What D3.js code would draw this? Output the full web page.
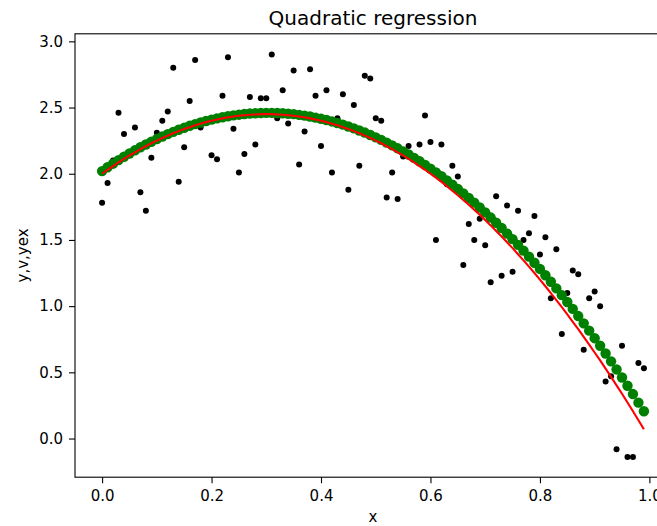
<html>
  <head>
    <meta charset="utf-8" />
    <script src="https://d3js.org/d3.v7.min.js"></script>
    <style>
      body { margin: 0; background: #fff; }
    </style>
  </head>
  <body>
    <div class="container"></div>
  </body>
</html>

<script>
  // sample positions (0.00 .. 0.99)
  const xs = [
    0.00, 0.01, 0.02, 0.03, 0.04, 0.05, 0.06, 0.07, 0.08, 0.09,
    0.10, 0.11, 0.12, 0.13, 0.14, 0.15, 0.16, 0.17, 0.18, 0.19,
    0.20, 0.21, 0.22, 0.23, 0.24, 0.25, 0.26, 0.27, 0.28, 0.29,
    0.30, 0.31, 0.32, 0.33, 0.34, 0.35, 0.36, 0.37, 0.38, 0.39,
    0.40, 0.41, 0.42, 0.43, 0.44, 0.45, 0.46, 0.47, 0.48, 0.49,
    0.50, 0.51, 0.52, 0.53, 0.54, 0.55, 0.56, 0.57, 0.58, 0.59,
    0.60, 0.61, 0.62, 0.63, 0.64, 0.65, 0.66, 0.67, 0.68, 0.69,
    0.70, 0.71, 0.72, 0.73, 0.74, 0.75, 0.76, 0.77, 0.78, 0.79,
    0.80, 0.81, 0.82, 0.83, 0.84, 0.85, 0.86, 0.87, 0.88, 0.89,
    0.90, 0.91, 0.92, 0.93, 0.94, 0.95, 0.96, 0.97, 0.98, 0.99
  ];

  // noisy samples (black points)
  const ySamples = [
    1.78, 1.93, 2.10, 2.46, 2.30, 2.16, 2.35, 1.86, 1.72, 2.12,
    2.31, 2.40, 2.47, 2.80, 1.94, 2.20, 2.55, 2.86, 2.35, 2.40,
    2.14, 2.11, 2.59, 2.88, 2.34, 2.01, 2.15, 2.58, 2.22, 2.57,
    2.57, 2.90, 2.42, 2.63, 2.38, 2.78, 2.07, 2.32, 2.79, 2.59,
    2.21, 2.63, 2.01, 2.42, 2.60, 1.88, 2.52, 2.06, 2.74, 2.72,
    2.42, 2.40, 1.82, 2.01, 1.81, 2.13, 2.21, 2.12, 2.22, 2.44,
    2.24, 1.50, 2.22, 1.92, 2.06, 1.98, 1.31, 1.62, 1.50, 1.66,
    1.46, 1.18, 1.83, 1.23, 1.76, 1.26, 1.72, 1.50, 1.55, 1.68,
    1.39, 1.52, 1.06, 1.43, 0.79, 1.10, 1.27, 1.24, 0.67, 1.06,
    1.11, 1.00, 0.43, 0.47, -0.08, 0.70, -0.14, -0.14, 0.57, 0.53
  ];

  // fitted values (green markers)
  const vFit = [
    2.020, 2.049, 2.076, 2.103, 2.128, 2.153, 2.177, 2.200, 2.221, 2.242,
    2.262, 2.281, 2.299, 2.316, 2.332, 2.347, 2.362, 2.375, 2.387, 2.398,
    2.409, 2.418, 2.427, 2.434, 2.441, 2.446, 2.451, 2.455, 2.457, 2.459,
    2.460, 2.460, 2.459, 2.457, 2.453, 2.450, 2.445, 2.439, 2.432, 2.424,
    2.415, 2.406, 2.395, 2.383, 2.371, 2.357, 2.343, 2.327, 2.311, 2.293,
    2.275, 2.256, 2.235, 2.214, 2.192, 2.169, 2.145, 2.120, 2.094, 2.067,
    2.039, 2.010, 1.981, 1.950, 1.918, 1.885, 1.852, 1.817, 1.782, 1.745,
    1.708, 1.669, 1.630, 1.590, 1.548, 1.506, 1.463, 1.419, 1.374, 1.328,
    1.281, 1.233, 1.184, 1.134, 1.083, 1.031, 0.979, 0.925, 0.870, 0.815,
    0.758, 0.701, 0.642, 0.583, 0.522, 0.461, 0.399, 0.336, 0.271, 0.206
  ];

  // exact curve (red line)
  const yExact = [
    2.000, 2.030, 2.058, 2.086, 2.112, 2.138, 2.162, 2.186, 2.208, 2.230,
    2.250, 2.270, 2.288, 2.306, 2.322, 2.338, 2.352, 2.366, 2.378, 2.390,
    2.400, 2.410, 2.418, 2.426, 2.432, 2.438, 2.442, 2.446, 2.448, 2.450,
    2.450, 2.450, 2.448, 2.446, 2.442, 2.438, 2.432, 2.426, 2.418, 2.410,
    2.400, 2.390, 2.378, 2.366, 2.352, 2.338, 2.322, 2.306, 2.288, 2.270,
    2.250, 2.230, 2.208, 2.186, 2.162, 2.138, 2.112, 2.086, 2.058, 2.030,
    2.000, 1.970, 1.938, 1.906, 1.872, 1.838, 1.802, 1.766, 1.728, 1.690,
    1.650, 1.610, 1.568, 1.526, 1.482, 1.438, 1.392, 1.346, 1.298, 1.250,
    1.200, 1.150, 1.098, 1.046, 0.992, 0.938, 0.882, 0.826, 0.768, 0.710,
    0.650, 0.590, 0.528, 0.466, 0.402, 0.338, 0.272, 0.206, 0.138, 0.070
  ];

  const xTicks = [0, 0.2, 0.4, 0.6, 0.8, 1.0];
  const yTicks = [0, 0.5, 1.0, 1.5, 2.0, 2.5, 3.0];

  const width = 657;
  const height = 526;
  const font = "DejaVu Sans, sans-serif";

  // axes box in pixels (right edge lies past the window, as in the original)
  const box = { left: 75, right: 671, top: 33.8, bottom: 477.2 };

  const x = d3.scaleLinear().domain([-0.0495, 1.0395]).range([box.left, box.right]);
  const y = d3.scaleLinear().domain([-0.292, 3.057]).range([box.bottom, box.top]);

  const svg = d3
    .select(".container")
    .append("svg")
    .attr("width", width)
    .attr("height", height)
    .style("display", "block");

  svg.append("rect").attr("width", width).attr("height", height).attr("fill", "#fff");

  const plot = svg.append("g");

  // black sample points
  plot
    .append("g")
    .selectAll("circle")
    .data(xs)
    .join("circle")
    .attr("cx", (d) => x(d))
    .attr("cy", (d, i) => y(ySamples[i]))
    .attr("r", 3)
    .attr("fill", "#000");

  // green fitted markers
  plot
    .append("g")
    .selectAll("circle")
    .data(xs)
    .join("circle")
    .attr("cx", (d) => x(d))
    .attr("cy", (d, i) => y(vFit[i]))
    .attr("r", 5.2)
    .attr("fill", "#008000");

  // red exact line
  plot
    .append("path")
    .datum(xs)
    .attr("fill", "none")
    .attr("stroke", "#ff0000")
    .attr("stroke-width", 2.1)
    .attr("stroke-linejoin", "round")
    .attr(
      "d",
      d3
        .line()
        .x((d) => x(d))
        .y((d, i) => y(yExact[i]))
    );

  // axes
  const gx = svg
    .append("g")
    .attr("transform", `translate(0,${box.bottom})`)
    .call(
      d3.axisBottom(x).tickValues(xTicks).tickFormat(d3.format(".1f")).tickSize(6).tickSizeOuter(0).tickPadding(7)
    );

  const gy = svg
    .append("g")
    .attr("transform", `translate(${box.left},0)`)
    .call(
      d3.axisLeft(y).tickValues(yTicks).tickFormat(d3.format(".1f")).tickSize(6).tickSizeOuter(0).tickPadding(6)
    );

  [gx, gy].forEach((g) => {
    g.select(".domain").remove();
    g.selectAll(".tick line").attr("stroke", "#000").attr("stroke-width", 1.1);
    g.selectAll(".tick text")
      .attr("fill", "#000")
      .attr("font-family", font)
      .attr("font-size", 15);
  });

  // spines
  svg
    .append("rect")
    .attr("x", box.left)
    .attr("y", box.top)
    .attr("width", box.right - box.left)
    .attr("height", box.bottom - box.top)
    .attr("fill", "none")
    .attr("stroke", "#000")
    .attr("stroke-width", 1.1);

  svg
    .append("text")
    .attr("x", (box.left + box.right) / 2)
    .attr("y", 25)
    .attr("text-anchor", "middle")
    .attr("font-family", font)
    .attr("font-size", 20)
    .text("Quadratic regression");

  svg
    .append("text")
    .attr("x", (box.left + box.right) / 2)
    .attr("y", 522)
    .attr("text-anchor", "middle")
    .attr("font-family", font)
    .attr("font-size", 15)
    .text("x");

  svg
    .append("text")
    .attr("transform", `translate(28,${(box.top + box.bottom) / 2}) rotate(-90)`)
    .attr("text-anchor", "middle")
    .attr("font-family", font)
    .attr("font-size", 15)
    .text("y,v,yex");
</script>
